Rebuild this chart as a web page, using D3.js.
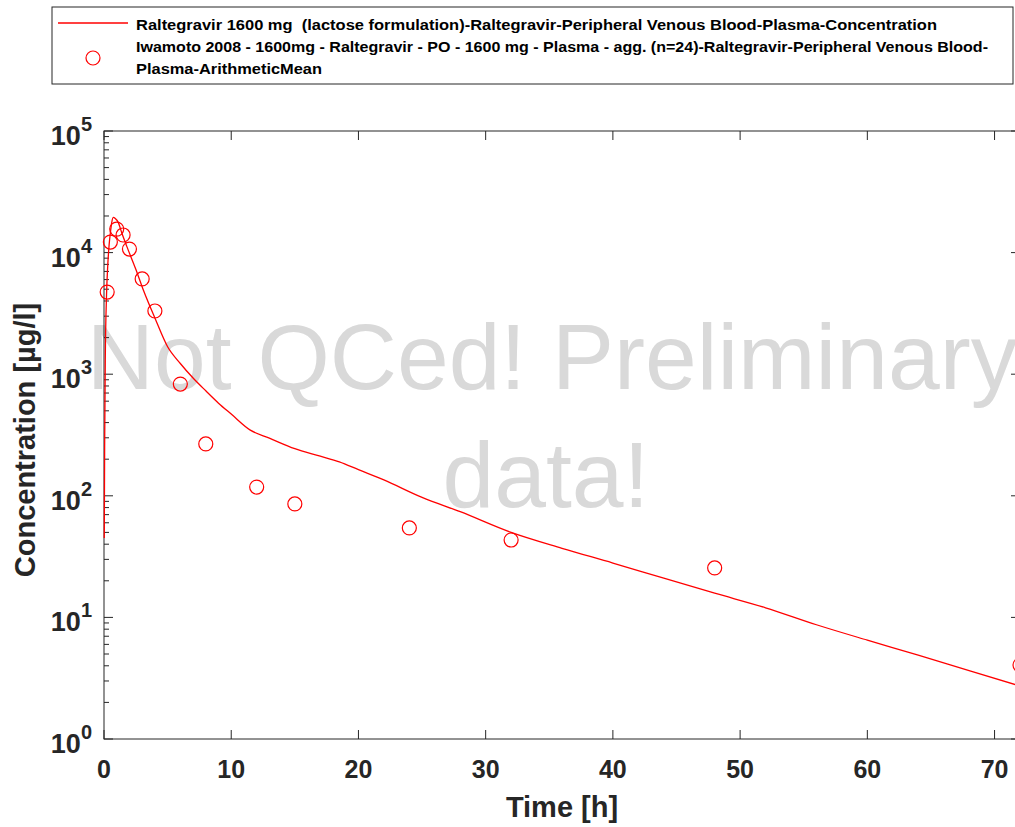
<!DOCTYPE html>
<html>
<head>
<meta charset="utf-8">
<script src="https://cdn.jsdelivr.net/npm/d3@7"></script>
<style>
body{margin:0;background:#fff}
svg{display:block;font-family:"Liberation Sans",Arial,sans-serif}
</style>
</head>
<body>
<div id="chart"></div>
<script>
// simulated curve (time in h, conc in µg/l)
var simTime = [0.02,0.05,0.1,0.2,0.3,0.4,0.5,0.6,0.73,0.9,1.1,1.4,1.8,2.5,3.1,4,5,6,7,8,9,10,11.5,13,15,17,18.5,20,22,25,28,32,36,40,44,48,52,56,60,64,68,72]
var simConc = [45,250,1300,4500,8000,11500,14500,17500,19500,19000,17900,14500,11200,7300,4900,2900,1680,1225,930,730,578,470,347,298,244,212,190,164,135,97,74,50,37,28,21,15.8,12,8.7,6.5,4.9,3.65,2.73]

// observed means
var obsTime = [0.25,0.5,1,1.5,2,3,4,6,8,12,15,24,32,48,72]
var obsConc = [4740,12200,15600,13960,10700,6070,3310,830,267,118,85.7,54.4,43.3,25.5,4.06]

var xTicks = [0,10,20,30,40,50,60,70]
var yTicks = [1,10,100,1000,10000,100000]

var legendLabels = [
  "Raltegravir 1600 mg  (lactose formulation)-Raltegravir-Peripheral Venous Blood-Plasma-Concentration",
  "Iwamoto 2008 - 1600mg - Raltegravir - PO - 1600 mg - Plasma - agg. (n=24)-Raltegravir-Peripheral Venous Blood-",
  "Plasma-ArithmeticMean"
]
var legendWidths = [801, 852, 186]

var W = 1015, H = 827
var pL = 104, pR = 1020, pT = 131, pB = 739
var axisColor = "#262626"

var svg = d3.select("#chart").append("svg").attr("width",W).attr("height",H)

var x = d3.scaleLinear().domain([0,72]).range([pL,pR])
var y = d3.scaleLog().domain([1,100000]).range([pB,pT])

// watermark behind data
svg.append("text").text("Not QCed! Preliminary")
  .attr("x",552).attr("y",389).attr("text-anchor","middle")
  .attr("font-size","93px").attr("fill","#d9d9d9")
svg.append("text").text("data!")
  .attr("x",546).attr("y",507).attr("text-anchor","middle")
  .attr("font-size","93px").attr("fill","#d9d9d9")

// box
svg.append("rect").attr("x",pL).attr("y",pT)
  .attr("width",pR-pL).attr("height",pB-pT)
  .attr("fill","none").attr("stroke",axisColor).attr("stroke-width",1)

// x ticks bottom + top
xTicks.forEach(function(t){
  svg.append("line").attr("x1",x(t)).attr("x2",x(t)).attr("y1",pB).attr("y2",pB-9)
    .attr("stroke",axisColor)
  svg.append("line").attr("x1",x(t)).attr("x2",x(t)).attr("y1",pT).attr("y2",pT+9)
    .attr("stroke",axisColor)
  svg.append("text").text(t).attr("x",x(t)).attr("y",778)
    .attr("text-anchor","middle").attr("font-size","25px").attr("font-weight","bold")
    .attr("fill",axisColor)
})

// y ticks, major and minor, both sides
yTicks.forEach(function(v,i){
  svg.append("line").attr("x1",pL).attr("x2",pL+9).attr("y1",y(v)).attr("y2",y(v)).attr("stroke",axisColor)
  svg.append("line").attr("x1",pR).attr("x2",pR-9).attr("y1",y(v)).attr("y2",y(v)).attr("stroke",axisColor)
  var lab = svg.append("text").attr("x",92).attr("y",y(v)+14)
    .attr("text-anchor","end").attr("font-weight","bold").attr("fill",axisColor)
  lab.append("tspan").text("10").attr("font-size","27px")
  lab.append("tspan").text(Math.log10(v)).attr("font-size","20px").attr("dy",-14)
  if(i < yTicks.length-1){
    for(var k=2;k<10;k++){
      svg.append("line").attr("x1",pL).attr("x2",pL+5).attr("y1",y(v*k)).attr("y2",y(v*k)).attr("stroke",axisColor)
      svg.append("line").attr("x1",pR).attr("x2",pR-5).attr("y1",y(v*k)).attr("y2",y(v*k)).attr("stroke",axisColor)
    }
  }
})

// axis titles
svg.append("text").text("Time [h]").attr("x",562).attr("y",817)
  .attr("text-anchor","middle").attr("font-size","29px").attr("font-weight","bold").attr("fill",axisColor)
svg.append("text").text("Concentration [µg/l]")
  .attr("transform","translate(35,440) rotate(-90)")
  .attr("text-anchor","middle").attr("font-size","29px").attr("font-weight","bold").attr("fill",axisColor)

// simulated line
var sim = simTime.map(function(t,i){return {t:t,c:simConc[i]}})
svg.append("path").datum(sim)
  .attr("d",d3.line().curve(d3.curveMonotoneX).x(function(d){return x(d.t)}).y(function(d){return y(d.c)}))
  .attr("fill","none").attr("stroke","#ff0000").attr("stroke-width",1.3)

// observed circles
var obs = obsTime.map(function(t,i){return {t:t,c:obsConc[i]}})
svg.selectAll("circle.obs").data(obs).enter().append("circle")
  .attr("class","obs")
  .attr("cx",function(d){return x(d.t)}).attr("cy",function(d){return y(d.c)})
  .attr("r",7).attr("fill","none").attr("stroke","#ff0000").attr("stroke-width",1.2)

// legend
svg.append("rect").attr("x",52).attr("y",7).attr("width",961).attr("height",77)
  .attr("fill","#fff").attr("stroke",axisColor).attr("stroke-width",1)
svg.append("line").attr("x1",58).attr("x2",128).attr("y1",23).attr("y2",23)
  .attr("stroke","#ff0000").attr("stroke-width",1.3)
svg.append("circle").attr("cx",93).attr("cy",58).attr("r",7)
  .attr("fill","none").attr("stroke","#ff0000").attr("stroke-width",1.2)
legendLabels.forEach(function(s,i){
  svg.append("text").text(s).attr("x",136).attr("y",[30,52,74][i])
    .attr("font-size","14.5px").attr("font-weight","bold").attr("fill","#000")
    .attr("textLength",legendWidths[i]).attr("lengthAdjust","spacingAndGlyphs")
    .style("white-space","pre")
})
</script>
</body>
</html>
